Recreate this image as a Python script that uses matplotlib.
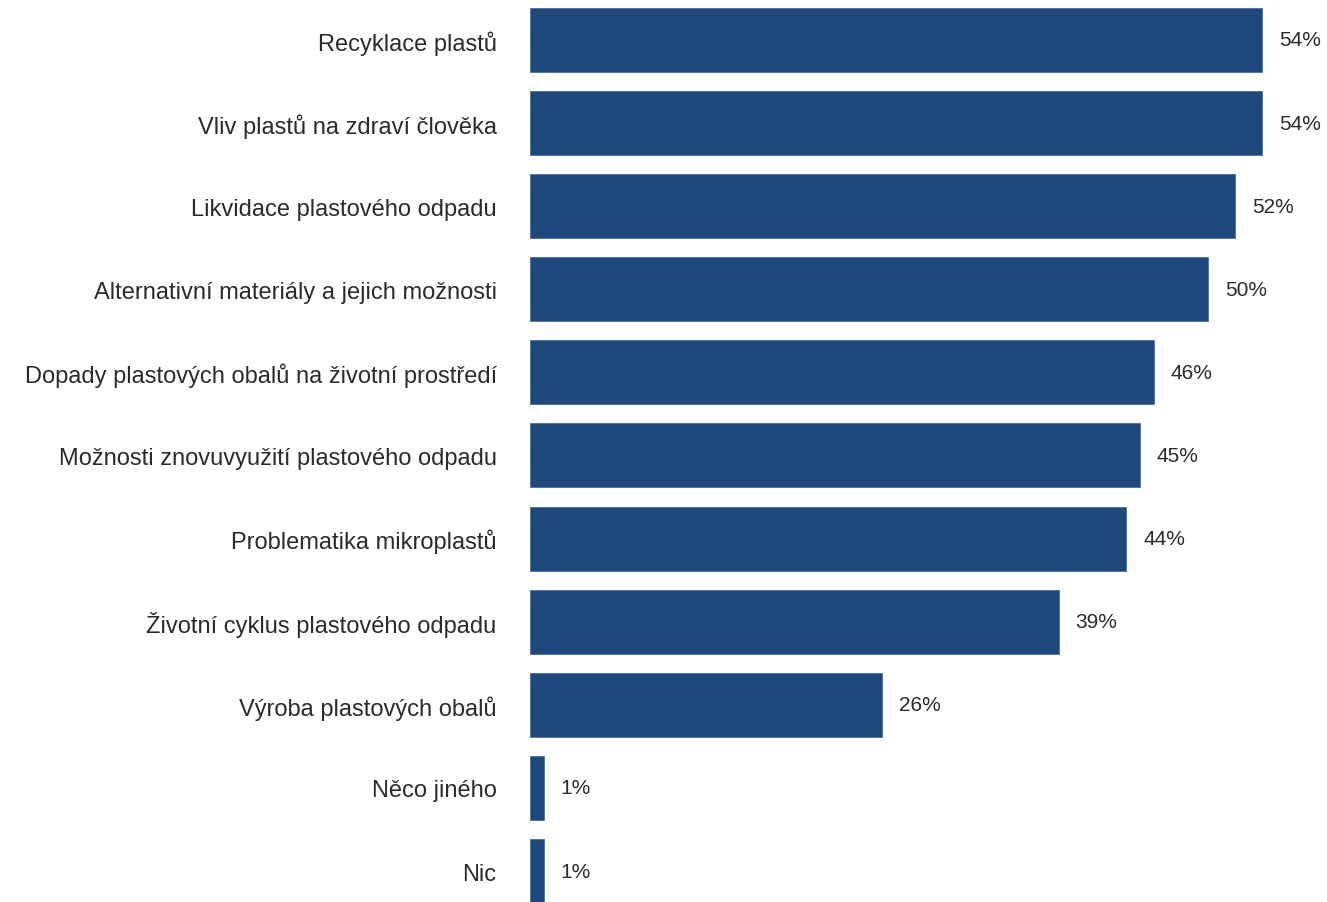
import matplotlib.pyplot as plt

categories = [
    "Recyklace plastů",
    "Vliv plastů na zdraví člověka",
    "Likvidace plastového odpadu",
    "Alternativní materiály a jejich možnosti",
    "Dopady plastových obalů na životní prostředí",
    "Možnosti znovuvyužití plastového odpadu",
    "Problematika mikroplastů",
    "Životní cyklus plastového odpadu",
    "Výroba plastových obalů",
    "Něco jiného",
    "Nic",
]
values = [54, 54, 52, 50, 46, 45, 44, 39, 26, 1, 1]

plt.rcParams['font.family'] = ['Liberation Sans', 'DejaVu Sans']

fig = plt.figure(figsize=(13.27, 9.03), dpi=100)
ax = fig.add_axes([530 / 1327, 0, 1 - 530 / 1327, 1])

y = list(range(len(categories)))
ax.barh(y, values, height=0.77, color='#1F497D', edgecolor='#4A6F9C', linewidth=0.6)

for yi, v in zip(y, values):
    ax.text(v + 1.25, yi, f"{v}%", va='center', ha='left', fontsize=15, color='#2b2b2b')

ax.set_yticks(y)
ax.set_yticklabels(categories, fontsize=17, color='#2b2b2b', va='center_baseline')
ax.tick_params(axis='y', length=0, pad=24)
ax.set_xticks([])
ax.set_xlim(0, 58.8)
ax.set_ylim(10.373, -0.493)
for s in ax.spines.values():
    s.set_visible(False)

fig.savefig("out.png", dpi=100)
